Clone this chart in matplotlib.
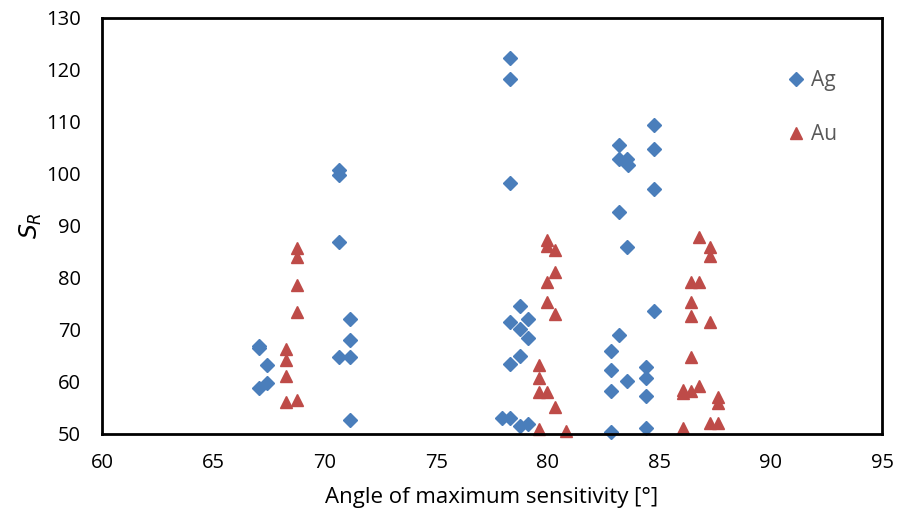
import matplotlib
matplotlib.use('Agg')
import matplotlib.pyplot as plt

# Ag (silver) points: angle [deg], S_R
ag_angle = [67.06, 67.06, 67.42, 67.42, 67.06,
            70.63, 70.63, 70.63, 71.13, 71.13, 70.63, 71.13, 71.13,
            78.29, 78.29, 78.29, 78.77, 78.29, 79.13, 78.77, 79.13, 78.77, 78.29,
            77.93, 78.29, 78.77, 79.13,
            84.75, 83.19, 84.75, 83.19, 83.54, 83.58, 84.75, 83.19, 83.54, 84.75,
            83.19, 82.85, 82.85, 84.39, 83.54, 84.39, 82.85, 84.39, 82.85, 84.39]
ag_sr = [67.0, 66.5, 63.3, 59.9, 58.8,
         100.8, 99.8, 87.0, 72.1, 68.0, 64.9, 64.9, 52.6,
         122.3, 118.2, 98.2, 74.6, 71.5, 72.1, 70.1, 68.4, 65.0, 63.4,
         53.1, 53.1, 51.5, 52.0,
         109.5, 105.6, 104.8, 102.9, 102.9, 101.7, 97.2, 92.6, 86.0, 73.7,
         69.0, 66.0, 62.4, 62.95, 60.2, 60.8, 58.3, 57.3, 50.4, 51.1]

# Au (gold) points
au_angle = [68.73, 68.73, 68.73, 68.73, 68.25, 68.25, 68.25, 68.25, 68.73,
            79.96, 79.96, 80.32, 80.32, 79.96, 79.96, 80.32, 79.6, 79.6, 79.6,
            79.96, 80.32, 79.6, 80.8,
            86.8, 87.28, 87.28, 86.42, 86.8, 86.42, 86.42, 87.28, 86.42, 86.07,
            86.07, 86.42, 86.8, 87.62, 87.62, 86.07, 87.28, 87.62]
au_sr = [85.7, 84.1, 78.65, 73.5, 66.35, 64.2, 61.2, 56.1, 56.5,
         87.3, 86.2, 85.4, 81.2, 79.2, 75.45, 73.1, 63.3, 60.7, 58.1,
         58.1, 55.1, 51.0, 50.5,
         87.95, 86.0, 84.2, 79.3, 79.3, 75.3, 72.7, 71.6, 64.9, 58.5,
         57.9, 58.3, 59.2, 57.2, 56.0, 51.1, 52.1, 52.1]

plt.rcParams['font.family'] = ['Open Sans', 'DejaVu Sans']

fig = plt.figure(figsize=(8.97, 5.20), dpi=100)
ax = fig.add_axes([0.1137, 0.1654, 0.8696, 0.80])

ax.plot(ag_angle, ag_sr, linestyle='none', marker='D', markersize=7.5,
        color='#4A7EBB', label='Ag', clip_on=False)
ax.plot(au_angle, au_sr, linestyle='none', marker='^', markersize=9,
        color='#BE4B48', label='Au', clip_on=False)

ax.set_xlim(60, 95)
ax.set_ylim(50, 130)
ax.set_xticks(range(60, 96, 5))
ax.set_yticks(range(50, 131, 10))
ax.tick_params(axis='y', length=0, pad=15, labelsize=14.5)
ax.tick_params(axis='x', length=0, pad=14, labelsize=14.5)
for s in ax.spines.values():
    s.set_linewidth(2)
    s.set_color('black')

ax.set_xlabel('Angle of maximum sensitivity [°]', fontsize=16, labelpad=10)
ax.set_ylabel(r'$S_R$', fontsize=17, labelpad=2)

leg = ax.legend(loc='upper right', bbox_to_anchor=(0.966, 0.92), frameon=False,
                fontsize=15, handletextpad=0.1, labelspacing=1.6,
                handlelength=1.2, markerscale=0.9)
for t in leg.get_texts():
    t.set_color('#595959')

fig.savefig('out.png', dpi=100)
